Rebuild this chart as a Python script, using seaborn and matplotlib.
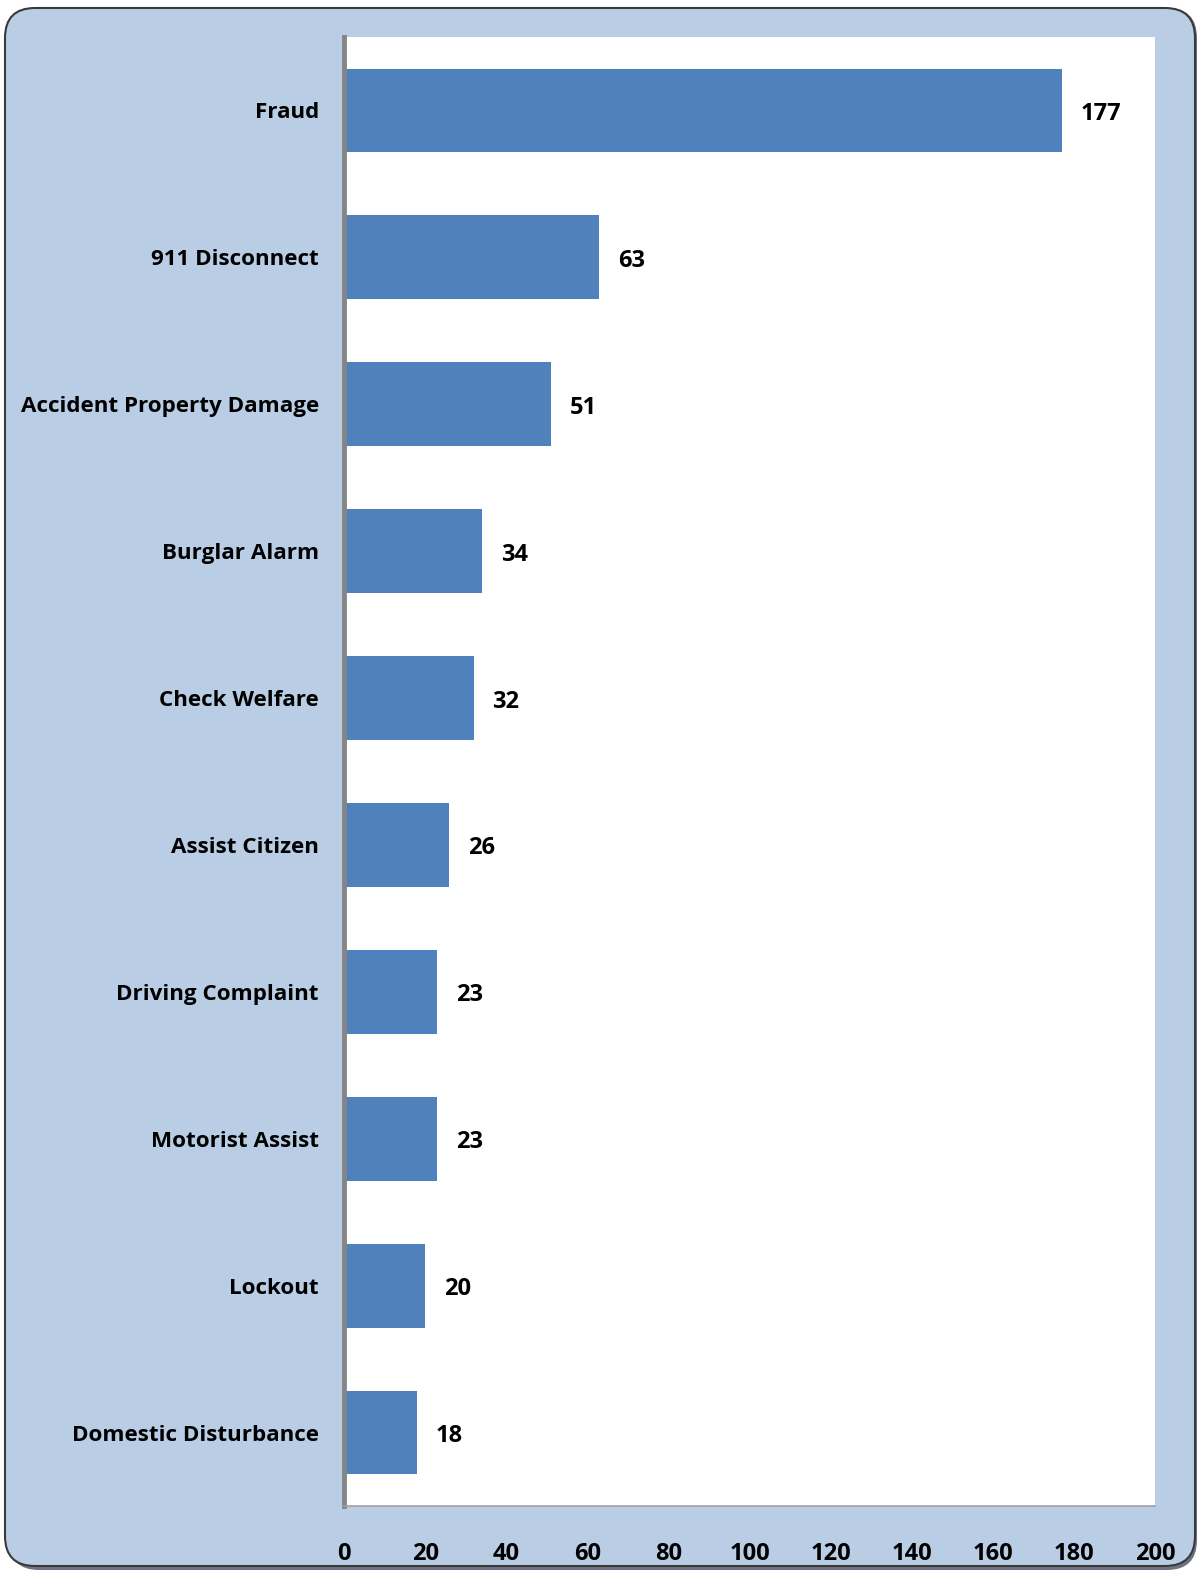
import matplotlib
matplotlib.use("Agg")
import matplotlib.pyplot as plt
import seaborn as sns
import pandas as pd
from matplotlib.patches import FancyBboxPatch

categories = ["Fraud", "911 Disconnect", "Accident Property Damage", "Burglar Alarm",
              "Check Welfare", "Assist Citizen", "Driving Complaint", "Motorist Assist",
              "Lockout", "Domestic Disturbance"]
values = [177, 63, 51, 34, 32, 26, 23, 23, 20, 18]
xticks = [0, 20, 40, 60, 80, 100, 120, 140, 160, 180, 200]

sns.set_theme(style="white")
plt.rcParams['font.family'] = ['Open Sans', 'DejaVu Sans']

W, H = 1199, 1573
FS_CAT = 16.1
FS_NUM = 17
fig = plt.figure(figsize=(W / 100, H / 100), dpi=100)
fig.patch.set_facecolor("white")

# rounded background panel with shadow
shadow = FancyBboxPatch((9 / W, 3 / H), (1197 - 9) / W, (1565 - 3) / H,
                        boxstyle="round,pad=0,rounding_size=0.025",
                        transform=fig.transFigure, facecolor="#6b7480",
                        edgecolor="none", zorder=0, mutation_aspect=W / H)
fig.patches.append(shadow)
panel = FancyBboxPatch((5 / W, 7 / H), (1195 - 5) / W, (1565 - 7) / H,
                       boxstyle="round,pad=0,rounding_size=0.025",
                       transform=fig.transFigure, facecolor="#b9cde5",
                       edgecolor="#3a3a3a", linewidth=1.5, zorder=1,
                       mutation_aspect=W / H)
fig.patches.append(panel)

ax = fig.add_axes([344 / W, 1 - 1506 / H, (1155 - 344) / W, (1506 - 37) / H])
ax.set_facecolor("white")
ax.set_zorder(2)

df = pd.DataFrame({"category": categories, "value": values})
sns.barplot(data=df, x="value", y="category", orient="h", color="#4f81bd",
            saturation=1, width=0.57, ax=ax, edgecolor="none")

ax.set_xlim(0, 200)
ax.set_xticks(xticks)
ax.set_xticklabels([str(t) for t in xticks], fontsize=FS_NUM, fontweight="bold", color="black")
ax.set_ylabel("")
ax.set_xlabel("")
for lab in ax.get_yticklabels():
    lab.set_fontsize(FS_CAT)
    lab.set_fontweight("bold")
    lab.set_color("black")
ax.tick_params(axis="x", length=0, pad=26)
ax.tick_params(axis="y", length=0, pad=18)

for s in ["top", "right"]:
    ax.spines[s].set_visible(False)
ax.spines["left"].set_color("#858585")
ax.spines["left"].set_linewidth(3.5)
ax.spines["bottom"].set_color("#a0a0a0")
ax.spines["bottom"].set_linewidth(1.2)

for i, v in enumerate(values):
    ax.annotate(str(v), (v, i), xytext=(13.5, -2.5), textcoords="offset points",
                va="center", ha="left", fontsize=FS_NUM, fontweight="bold", color="black")

fig.savefig("out.png", dpi=100)
